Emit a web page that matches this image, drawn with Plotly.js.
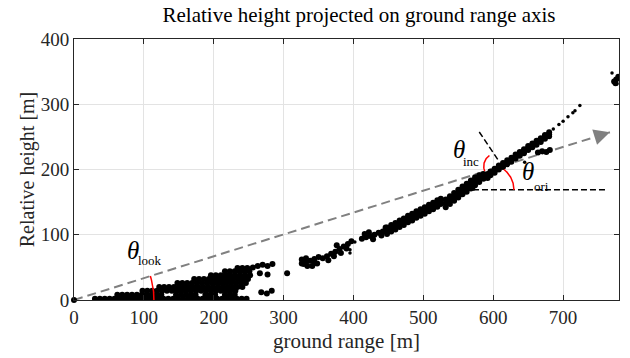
<!DOCTYPE html>
<html>
<head>
<meta charset="utf-8">
<script src="https://cdn.plot.ly/plotly-3.0.1.min.js"></script>
<style>
  html, body { margin: 0; padding: 0; background: #fff; }
  #chart { width: 630px; height: 358px; }
</style>
</head>
<body>
<div id="chart"></div>
<script>
// ---- Scatterer heights [m] versus ground range [m] ----

// near-range cloud (ground range 25–255 m), one list of ranges per height row
const nearRowHeights = [2, 8, 14, 20, 26, 32, 38, 44, 49];
const nearRowRanges = [
  [30,37,44,51,58,65,72,79,86,93,100,107,114,121,128,135,142,149,156,163,170,177,184,191,198,205,212,219,226,233,240,247],
  [62,69,76,83,90,97,104,111,118,125,146,153,160,167,174,188,195,202,216,223,230],
  [98,105,112,119,126,133,140,147,154,161,168,175,182,189,196,203,210,217,224,231],
  [122,129,136,143,150,157,164,171,178,185,192,199,206,213,220,227,234,241],
  [148,155,162,169,176,183,190,197,204,211,218,225,232,239,246],
  [172,179,186,193,200,207,214,221,228,235,242,249],
  [196,203,210,217,224,231,238,245,252],
  [216,223,230,237,244,251],
  [234,241,248]
];

// small patches just beyond the near-range cloud
const patchX = [256,263,270,277,284,266,277,268,276,283,305];
const patchY = [50,52,54,52,55,41,39,12,10,14,41];

// loose scatterers of the mid range (320–450 m)
const looseX = [326,332,338,344,350,334,341,348,329,326,332,344,
                356,362,368,374,380,386,392,397,364,372,382,390,376,
                412,418,424,430,436,442,416,428,440,446,422];
const looseY = [62,58,60,63,66,52,52,56,55,56,64,57,
                64,67,71,74,78,82,86,90,61,67,72,79,84,
                94,96,98,100,103,105,101,93,99,111,104];

// dense band 445–525 m: ground range, band centre and its upper / lower edge
const bandAX     = [448,454,460,466,472,478,484,490,496,502,508,514,520,525];
const bandAMid   = [106,110,113,117,120,124,127,131,134,137,141,144,148,151];
const bandAUpper = [111,115,118,122,125,129,132,136,139,142,146,149,153,155];
const bandALower = [101,105,108,112,115,119,122,126,129,132,136,139,143,147];

// steep band 530–590 m
const bandBX     = [532,538,544,550,556,562,568,574,580,586];
const bandBMid   = [148,153,158,163,168,172,177,182,186,190];
const bandBUpper = [154,159,164,169,174,178,183,188,191,193];
const bandBLower = [142,147,152,157,162,166,171,176,181,186];

// far band 590–680 m
const bandCX     = [592,596,602,608,614,620,626,632,638,644,650,656,662,668,674,680];
const bandCMid   = [190,194,198,203,207,211,215,220,224,228,233,237,241,245,250,254];
const bandCUpper = [193,197,201,206,210,214,218,223,227,231,236,240,244,248,253,257];
const bandCLower = [187,191,195,200,204,208,212,217,221,225,230,234,238,242,247,251];

// separate blobs near the far band and at the far edge
const blobX = [664,670,676,681,773,776,779,775];
const blobY = [226,228,227,230,335,338,342,332];

// isolated scatterers
const singleX = [395,395,402,566,572,645,686,694,700,707,714,717,724,770,777];
const singleY = [72,77,89,171,170,211,262,269,274,281,287,290,298,348,331];

// ---- Geometry overlays ----
const lookLineX = [0, 767];          // look direction
const lookLineY = [0, 257];
const horizX = [571, 764];           // local horizontal
const horizY = [169, 169];
const normalX = [580, 607];          // local surface normal
const normalY = [257.5, 214.6];

// plot frame
const X_RANGE = [0, 780];
const Y_RANGE = [0, 400];
const W = 630, H = 358;
const M = { l: 74, r: 11, t: 39, b: 58, pad: 0 };
const dxPerPx = (X_RANGE[1] - X_RANGE[0]) / (W - M.l - M.r);
const dyPerPx = (Y_RANGE[1] - Y_RANGE[0]) / (H - M.t - M.b);

// flatten the near-range rows
const nearX = [], nearY = [];
nearRowRanges.forEach((xs, i) => xs.forEach(x => { nearX.push(x); nearY.push(nearRowHeights[i]); }));

// flatten a band (centre + both edges)
function bandPoints(xs, mid, up, lo) {
  return { x: xs.concat(xs, xs), y: mid.concat(up, lo) };
}
const bandA = bandPoints(bandAX, bandAMid, bandAUpper, bandALower);
const bandB = bandPoints(bandBX, bandBMid, bandBUpper, bandBLower);
const bandC = bandPoints(bandCX, bandCMid, bandCUpper, bandCLower);

// circular (on screen) angle arc around a data point, radius in px
function angleArc(center, rPx, a0, a1) {
  const xs = [], ys = [];
  for (let i = 0; i <= 40; i++) {
    const a = (a0 + (a1 - a0) * i / 40) * Math.PI / 180;
    xs.push(center[0] + rPx * Math.cos(a) * dxPerPx);
    ys.push(center[1] + rPx * Math.sin(a) * dyPerPx);
  }
  return { xs, ys };
}
const arcLook = angleArc([0, 0], 80, -1.5, 17.4);
const arcInc  = angleArc([605, 205], 13, 124, 202);
const arcOri  = angleArc([592.5, 168.6], 26, 0, 52);

const SERIF = '"Liberation Serif", "Times New Roman", Times, serif';
const GRAY = '#808080';

function cloud(x, y, size) {
  return { x, y, mode: 'markers', hoverinfo: 'skip', marker: { color: '#000', size } };
}

const traces = [
  { x: lookLineX, y: lookLineY, mode: 'lines', hoverinfo: 'skip',
    line: { color: GRAY, width: 2, dash: '9px,5px' } },
  cloud(nearX, nearY, 6),
  cloud(patchX, patchY, 6),
  cloud(looseX, looseY, 6),
  cloud(bandA.x, bandA.y, 6),
  cloud(bandB.x, bandB.y, 6),
  cloud(bandC.x, bandC.y, 6),
  cloud(blobX, blobY, 6),
  cloud(singleX, singleY, 3.5),
  { x: [0], y: [0], mode: 'markers', hoverinfo: 'skip', cliponaxis: false,
    marker: { color: '#000', size: 6 } },
  { x: horizX, y: horizY, mode: 'lines', hoverinfo: 'skip',
    line: { color: '#000', width: 1.5, dash: '6px,3px' } },
  { x: normalX, y: normalY, mode: 'lines', hoverinfo: 'skip',
    line: { color: '#000', width: 1.5, dash: '6px,3px' } },
  { x: arcLook.xs, y: arcLook.ys, mode: 'lines', hoverinfo: 'skip', cliponaxis: false,
    line: { color: '#ff0000', width: 1.5 } },
  { x: arcInc.xs, y: arcInc.ys, mode: 'lines', hoverinfo: 'skip',
    line: { color: '#ff0000', width: 1.5 } },
  { x: arcOri.xs, y: arcOri.ys, mode: 'lines', hoverinfo: 'skip',
    line: { color: '#ff0000', width: 1.5 } }
];

function label(x, y, text, size) {
  return { x, y, xref: 'x', yref: 'y', text, showarrow: false,
           font: { family: SERIF, size, color: '#000' },
           xanchor: 'center', yanchor: 'middle' };
}

const annotations = [
  // arrowhead at the end of the look direction
  { x: lookLineX[1], y: lookLineY[1], ax: 745, ay: 249.6, xref: 'x', yref: 'y',
    axref: 'x', ayref: 'y', text: '', showarrow: true, arrowhead: 2,
    arrowsize: 1.6, arrowwidth: 2, arrowcolor: GRAY, standoff: 0 },
  label(84.4, 76.6, '<i>θ</i>', 25),
  label(108.8, 59.8, 'look', 13),
  label(551, 229.9, '<i>θ</i>', 25),
  label(568.2, 213, 'inc', 13),
  label(649.8, 197.7, '<i>θ</i>', 25),
  label(668.4, 174.7, 'ori', 13)
];

const axisCommon = {
  showline: true, linecolor: '#262626', linewidth: 1, mirror: 'ticks',
  ticks: 'inside', ticklen: 5, tickwidth: 1, tickcolor: '#262626',
  showgrid: true, gridcolor: '#e3e3e3', gridwidth: 1, zeroline: false,
  tickfont: { family: SERIF, size: 19, color: '#262626' }
};

const layout = {
  width: W, height: H, margin: M,
  paper_bgcolor: '#fff', plot_bgcolor: '#fff',
  showlegend: false,
  title: { text: 'Relative height projected on ground range axis',
           font: { family: SERIF, size: 21, color: '#000' },
           x: 0.523, xref: 'paper', xanchor: 'center', y: 0.958, yanchor: 'middle' },
  xaxis: Object.assign({}, axisCommon, {
    range: X_RANGE, tickvals: [0,100,200,300,400,500,600,700],
    title: { text: 'ground range [m]', font: { family: SERIF, size: 21, color: '#262626' }, standoff: 6 }
  }),
  yaxis: Object.assign({}, axisCommon, {
    range: Y_RANGE, tickvals: [0,100,200,300,400],
    title: { text: 'Relative height [m]', font: { family: SERIF, size: 20, color: '#262626' }, standoff: 0 }
  }),
  annotations
};

Plotly.newPlot('chart', traces, layout, { staticPlot: true, displayModeBar: false });
</script>
</body>
</html>
